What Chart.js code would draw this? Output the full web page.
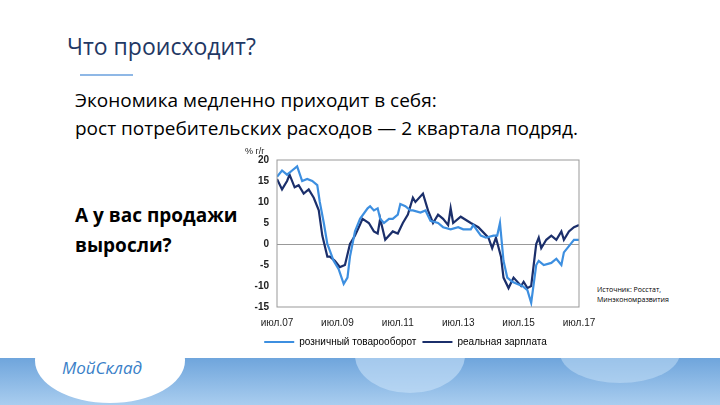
<!DOCTYPE html>
<html><head><meta charset="utf-8">
<script src="https://cdn.jsdelivr.net/npm/chart.js@4"></script>
<style>
body{margin:0;width:720px;height:405px;overflow:hidden;background:#fff;position:relative;font-family:"Open Sans",sans-serif;}
.t{position:absolute;white-space:nowrap;}
#band{position:absolute;left:0;top:358px;width:720px;height:47px;background:linear-gradient(#6fa5dc,#a9cdef);overflow:hidden;}
.cl{position:absolute;border-radius:50%;}
</style></head><body>
<div class="t" style="left:67px;top:30px;font-size:23px;color:#1f3864;">Что происходит?</div>
<div style="position:absolute;left:80px;top:74px;width:53px;height:2px;background:#8fb8e6;"></div>
<div class="t" style="left:75px;top:86px;font-size:19px;color:#000;line-height:28px;">Экономика медленно приходит в себя:<br>рост потребительских расходов — 2 квартала подряд.</div>
<div class="t" style="left:75px;top:200px;font-size:19px;font-weight:bold;color:#000;line-height:30px;">А у вас продажи<br>выросли?</div>
<div class="t" style="left:597px;top:285px;font-size:7px;line-height:10px;color:#000;">Источник: Росстат,<br>Минэкономразвития</div>
<div id="band">
<div class="cl" style="left:355px;top:-40px;width:110px;height:75px;background:rgba(200,225,248,0.6)"></div>
<div class="cl" style="left:560px;top:-35px;width:120px;height:60px;background:rgba(200,225,248,0.5)"></div>
<div class="cl" style="left:35px;top:-40px;width:150px;height:85px;background:#fff"></div>
</div>
<div class="t" style="left:62px;top:356px;font-size:17px;color:#3a7fc8;font-style:italic;">МойСклад</div>
<div style="position:absolute;left:232px;top:143px;width:372px;height:214px;"><canvas id="c"></canvas></div>
<script>
const retailMonths=[0,2,4,6,8,10,12,14,16,17,18.6,20,22.5,24.5,26.5,28,29,31,33,36,37,38.5,40,41,42.5,44.5,46,48,49,51,53,54,57,59,61,64,66,69,72,74,77,78,81,83,86,87.5,88.6,90,91.5,93.5,95.5,97.5,99.5,101,103,104,106,109,111,113,114,116,118,120];
const retailValues=[16,17.5,16.5,17.5,18.5,15,15.5,15,14,10,5,0,-4,-6,-9.5,-8,-3,3,6,8.5,9,8,8.5,6,5,6,6,7,9.5,9,8,8,7.5,8,5.5,5,4,3.5,4,3.5,3.5,4.5,2,1.5,2,2,5,-4,-8,-9,-9.5,-10,-11,-14,-5,-4,-5,-4.5,-3.5,-5,-2,-0.5,1,1];
const wageMonths=[0,2,4,5,7,8.6,10.6,12.6,14.6,16.6,18,20,21,23,25,27,29,31,32.5,34,36.5,38.5,40,41,43,46,48,50,52,54,55,58,60,62,64,66,68,69,70,73,77,80,84,85.5,87,89,90,92,94,97,98,99.5,101,102,103,104,105,107,109,111,113,114,116,118,120];
const wageValues=[15.5,13,15,16.5,13.5,14,12,13,11,8,2,-3,-3,-4,-5.5,-5,0,2,4,6,5,3,2.5,6,1,3,2.5,5,7,11,10,12,8,5,7,6,4.5,8.5,5,6.5,5,4,1.5,-1,1.5,-3,-8,-10.5,-8,-10,-9,-10.5,-10,-5,0,1.5,-1,1,2,1,3,1,3,4,4.5];
const xTickLabels=['июл.07','июл.09','июл.11','июл.13','июл.15','июл.17'];
const seriesNames=['розничный товарооборот','реальная зарплата'];
const pts=(m,v)=>m.map((x,i)=>({x:x,y:v[i]}));
const box={id:'box',afterDraw(c){const a=c.chartArea,g=c.ctx;g.save();g.strokeStyle='#999';g.lineWidth=1;g.strokeRect(a.left,a.top,a.right-a.left,a.bottom-a.top);g.restore();}};
new Chart(document.getElementById('c'),{type:'line',
data:{datasets:[
{label:seriesNames[0],data:pts(retailMonths,retailValues),borderColor:'#3d8fe0',borderWidth:2.2,pointRadius:0,tension:0},
{label:seriesNames[1],data:pts(wageMonths,wageValues),borderColor:'#1b2f6b',borderWidth:2.2,pointRadius:0,tension:0}]},
options:{responsive:true,maintainAspectRatio:false,animation:false,
layout:{padding:{left:0,right:25,top:17,bottom:0}},
plugins:{legend:{position:'bottom',labels:{boxWidth:30,boxHeight:2,color:'#222',font:{family:'Liberation Sans',size:10},padding:6,
generateLabels:c=>c.data.datasets.map((d,i)=>({text:d.label,fillStyle:d.borderColor,strokeStyle:d.borderColor,lineWidth:0,datasetIndex:i}))}},
tooltip:{enabled:false}},
scales:{x:{type:'linear',min:0,max:120,grid:{display:false},border:{display:false},
afterBuildTicks:s=>{s.ticks=[0,24,48,72,96,120].map(v=>({value:v}));},
ticks:{callback:(v)=>xTickLabels[v/24],color:'#222',font:{family:'Liberation Sans',size:10},maxRotation:0,padding:2}},
y:{min:-15,max:20,afterFit:s=>{s.width=45;},grid:{color:c=>c.tick.value===0?'#999':'transparent',drawTicks:false},border:{display:false},
ticks:{stepSize:5,color:'#222',font:{family:'Liberation Sans',size:10,weight:'bold'},padding:8}}}},
plugins:[box,{id:'unit',afterDraw(c){const g=c.ctx;g.save();g.font='9px Liberation Sans';g.fillStyle='#222';g.fillText('% г/г',c.chartArea.left-32,c.chartArea.top-8);g.restore();}}]});
</script></body></html>
